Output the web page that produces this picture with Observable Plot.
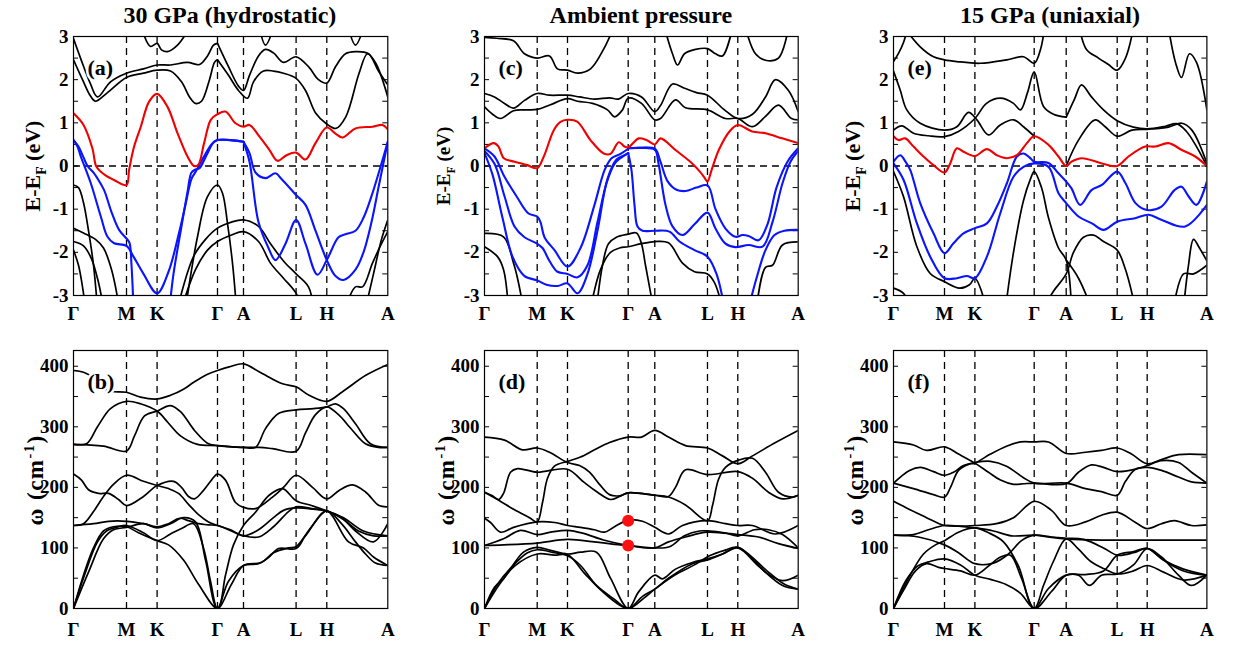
<!DOCTYPE html>
<html><head><meta charset="utf-8">
<script src="https://cdn.jsdelivr.net/npm/d3@7"></script>
<script src="https://cdn.jsdelivr.net/npm/@observablehq/plot@0.6"></script>
<style>
body{margin:0;background:#fff;}
#wrap{position:relative;width:1235px;height:647px;overflow:hidden;background:#fff;font-family:"Liberation Serif","Times New Roman",serif;color:#000;}
.title{position:absolute;font-weight:bold;font-size:24px;transform:translate(-50%,-50%);white-space:nowrap;}
.ylab{position:absolute;font-weight:bold;font-size:22px;transform:translate(-50%,-50%) rotate(-90deg);white-space:nowrap;}
.ylab sub,.ylab sup{font-size:0.62em;}
.wlab{font-size:23px;letter-spacing:1.5px;}
</style></head><body><div id="wrap"></div>
<script>
// ---------- tick labels / paths ----------
const kLabels = ["Γ","M","K","Γ","A","L","H","A"];
const kPathAB = [0, 53, 83.6, 144, 170, 222.6, 253.3, 314.3];
const kPathCD = [0, 52.7, 83, 143.7, 170.3, 223, 253.3, 313.7];
const kPathEF = [0, 51, 81.4, 140.7, 172.7, 223.7, 253.7, 313.4];
const eTicks = [-3, -2, -1, 0, 1, 2, 3];
const eMinor = [-2.5, -2, -1.5, -1, -0.5, 0, 0.5, 1, 1.5, 2, 2.5];
const wTicks = [0, 100, 200, 300, 400];
const wMinor = [50, 100, 150, 200, 250, 300, 350, 400];
const titles = ["30 GPa (hydrostatic)", "Ambient pressure", "15 GPa (uniaxial)"];
const panelLabels = ["(a)", "(b)", "(c)", "(d)", "(e)", "(f)"];

// ---------- (a) 30 GPa bands ----------
const a_red = [
 [[0,1.22],[10,0.95],[19,0.4],[23,-0.02],[31,-0.2],[41,-0.33],[53,-0.44],[55.6,-0.09],[60.6,0.45],[67.3,0.91],[75.6,1.49],[83.6,1.67],[94,1.37],[104,0.76],[114,0.22],[120.6,0.0],[124.6,0.02],[130.6,0.53],[137.3,1.07],[144,1.2],[152,1.26],[162,0.99],[170,0.91],[176,0.95],[186,0.68],[196,0.37],[204,0.12],[213,0.25],[222.6,0.31],[232,0.15],[242,0.53],[253.3,0.89],[262,0.75],[269,0.66],[282,0.87],[299,0.91],[309,0.95],[314.3,0.85]]
];
const a_blue = [
 [[0,0.6],[5,0.45],[10,0.2],[14,0.0],[20.6,-0.17],[24,-0.29],[30.6,-0.56],[37.3,-1.02],[45.6,-1.48],[53,-1.68],[56,-1.78],[58,-2.3],[60,-3.3]],
 [[96,-3.3],[100,-2.5],[108,-1.4],[114,-0.6],[118,-0.15],[122,-0.08],[126,-0.05],[133,0.25],[140,0.55],[144,0.6],[157,0.6],[170,0.56]],
 [[0,0.6],[4,0.45],[7.3,0.22],[17.3,-0.4],[27.3,-1.17],[34,-1.64],[40.6,-1.79],[53,-1.85],[60,-2.1],[70,-2.5],[83.6,-2.95],[95,-2.45],[105,-1.6],[112,-0.9],[118,-0.3],[123,-0.1],[130,0.2],[138,0.5],[144,0.6],[157,0.6],[170,0.56]],
 [[170,0.56],[176,0.3],[182,-0.15],[192,-0.28],[202,-0.17],[208,-0.3],[222.6,-0.67],[232,-0.9],[242,-1.5],[253.3,-2.18],[262,-2.55],[270,-2.64],[282,-2.4],[290,-2.0],[298,-1.3],[305,-0.5],[314.3,0.56]],
 [[170,0.56],[176,0.1],[185,-1.3],[195,-1.9],[202,-2.18],[212,-1.8],[222.6,-1.25],[232,-1.8],[244,-2.52],[253.3,-2.18],[265,-1.65],[272,-1.58],[282,-1.5],[290,-1.2],[298,-0.7],[306,-0.1],[314.3,0.56]]
];
const a_black = [
 [[0,-0.44],[5,-0.5],[10,-0.85],[15,-1.5],[20,-2.3],[24,-3.3]],
 [[0,-1.44],[10,-1.55],[22,-1.7],[30,-1.9],[38,-2.4],[46,-3.3]],
 [[0,-1.75],[10,-1.85],[18,-2.15],[25,-2.7],[30,-3.3]],
 [[0,-1.95],[5,-2.3],[9,-2.8],[12,-3.3]],
 [[112,-3.3],[124,-1.64],[134,-0.71],[144,-0.44],[149,-0.63],[154,-1.33],[159,-2.25],[163,-3.3]],
 [[104,-3.3],[120,-2.1],[132,-1.7],[144,-1.44],[158,-1.3],[170,-1.25],[185,-1.4],[197,-1.8],[210,-2.2],[222.6,-2.5],[235,-2.8],[240,-3.3]],
 [[108,-3.3],[122,-2.4],[134,-1.95],[144,-1.75],[158,-1.6],[170,-1.52],[185,-1.75],[197,-2.25],[210,-2.6],[222.6,-2.95],[228,-3.3]],
 [[272,-3.3],[282,-2.8],[289,-2.8],[299,-2.25],[308,-1.8],[314.3,-1.52]],
 [[292,-3.3],[300,-2.5],[308,-1.7],[314.3,-1.25]],
 [[0,2.95],[7,2.5],[17,1.9],[24,1.6],[37,1.95],[53,2.15],[70,2.25],[83.6,2.34],[97,2.34],[114,2.4],[126,2.35],[134,2.55],[140,2.8],[144,2.84]],
 [[0,2.46],[9,2.0],[17,1.62],[22,1.5],[34,1.7],[53,2.05],[70,2.15],[83.6,2.22],[97,2.2],[108,1.95],[116,1.6],[122,1.45],[128,1.5],[136,2.0],[141,2.4],[144,2.46]],
 [[68,3.2],[77,2.77],[83.6,2.84],[88,2.69],[94,2.65],[104,2.8],[116,3.2]],
 [[144,2.84],[155,2.3],[165,1.85],[170,1.75],[176,2.1],[185,2.55],[192,2.7],[200,2.62],[210,2.4],[222.6,2.53],[235,2.3],[245,2.0],[253.3,1.92],[262,2.3],[272,2.6],[282,2.65],[295,2.6],[305,2.2],[314.3,1.88]],
 [[144,2.46],[155,2.1],[165,1.75],[174,1.57],[180,1.95],[190,2.2],[200,2.2],[210,2.15],[222.6,2.03],[232,1.75],[242.3,1.22],[252.3,0.99],[262.3,0.87],[272.3,1.14],[285.6,2.15],[294,2.6],[302.3,2.38],[314.3,1.6]],
 [[186,3.2],[192,2.8],[200,3.2]],
 [[275,3.2],[282,2.8],[290,3.2]]
];

// ---------- (c) ambient bands ----------
const c_red = [
 [[0,0.41],[9.3,0.53],[14,0.45],[19.3,0.18],[30,0.1],[42.7,0.02],[52.7,-0.05],[59.3,0.22],[69.3,0.83],[76,1.02],[83,1.07],[92.7,1.03],[106,0.6],[119.3,0.29],[126,0.28],[134.3,0.55],[140,0.45],[143.7,0.43],[154.3,0.64],[162,0.6],[170.3,0.5],[176,0.64],[191,0.37],[207.7,0.06],[215,-0.12],[220,-0.27],[223,-0.36],[227,-0.1],[234.3,0.37],[245,0.8],[253.3,0.95],[267.7,0.8],[281,0.76],[297.7,0.64],[313.7,0.53]]
];
const c_blue = [
 [[0,0.41],[10,0.22],[20,-0.25],[32,-0.7],[44,-1.1],[52.7,-1.17],[56,-1.3],[60,-1.65],[70,-1.95],[83,-2.33],[96,-1.9],[110,-0.9],[120,-0.1],[127,0.18],[136,0.28],[143.7,0.4]],
 [[0,0.35],[10,0.05],[20,-0.7],[30,-1.4],[40,-1.65],[52.7,-1.8],[58,-1.9],[65,-2.2],[73,-2.45],[83,-2.5],[93,-2.58],[103,-2.3],[113,-1.3],[122,-0.4],[130,0.05],[137,0.2],[143.7,0.3]],
 [[0,0.3],[8,-0.2],[18,-1.2],[28,-2.1],[40,-2.55],[52.7,-2.65],[62,-2.75],[73,-2.78],[83,-2.72],[93,-2.95],[103,-2.5],[113,-1.5],[123,-0.3],[132,0.15],[140,0.25],[143.7,0.3]],
 [[143.7,0.41],[156,0.42],[170.3,0.4],[176,0.1],[183,-0.35],[192,-0.55],[201,-0.58],[212,-0.5],[223,-0.45],[231,-1.0],[241,-1.45],[251,-1.64],[258,-1.6],[264,-1.62],[274,-1.72],[283,-1.35],[292,-0.5],[303,0.1],[313.7,0.41]],
 [[143.7,0.41],[156,0.42],[170.3,0.38],[174,0.06],[181,-0.9],[188,-1.4],[198,-1.6],[210,-1.35],[223,-1.08],[231,-1.45],[241,-1.8],[251,-1.88],[264,-1.83],[278,-1.87],[288,-1.3],[298,-0.4],[306,0.1],[313.7,0.35]],
 [[143.7,0.3],[147,-0.1],[150,-0.9],[153,-1.4],[158,-1.5],[170.3,-1.5],[185,-1.52],[195,-1.75],[210,-1.95],[223,-2.1],[232,-2.5],[240,-3.3]],
 [[264,-3.3],[272,-2.6],[281,-1.95],[290,-1.6],[300,-1.5],[313.7,-1.48]]
];
const c_black = [
 [[0,-1.56],[19,-1.64],[29,-2.25],[33,-2.6],[39,-3.3]],
 [[0,-1.87],[13,-2.1],[19,-2.4],[24,-3.3]],
 [[112,-3.3],[118,-2.3],[124,-1.8],[132,-1.65],[143.7,-1.58],[152,-1.55],[157,-1.8],[161,-2.3],[165,-2.8],[169,-3.3]],
 [[106,-3.3],[116,-2.4],[126,-2.0],[135,-1.9],[143.7,-1.87],[157,-1.8],[170.3,-1.75],[184,-1.78],[198,-2.25],[210,-2.45],[223,-2.5],[230,-2.7],[238,-3.3]],
 [[272,-3.3],[281,-2.35],[288,-2.3],[298,-1.83],[313.7,-1.76]],
 [[0,1.68],[10,1.6],[20,1.45],[29,1.34],[40,1.52],[52.7,1.68],[65,1.64],[83,1.64],[95,1.6],[110,1.55],[125,1.58],[134,1.55],[143.7,1.68],[157,1.6],[170.3,1.26],[176,1.4],[188,1.9],[200,1.8],[212,1.7],[223,1.64],[240,1.3],[253.3,1.1],[268,1.2],[281,1.6],[291,2.0],[304,1.75],[313.7,1.26]],
 [[0,1.37],[8,1.2],[16,1.1],[29,1.28],[40,1.3],[52.7,1.31],[66,1.42],[83,1.56],[93,1.5],[108,1.45],[123,1.3],[130,1.14],[138,1.3],[143.7,1.57],[157,1.45],[170.3,1.07],[176,1.1],[191,1.53],[201,1.35],[223,1.3],[241,1.1],[253.3,1.1],[268,0.91],[281,1.15],[294,1.41],[307,1.1],[313.7,1.07]],
 [[0,2.98],[12,2.96],[29,2.9],[40,2.6],[52.7,2.5],[65,2.55],[73,2.25],[83,2.22],[93,2.15],[106,2.25],[119,2.7],[129,3.2]],
 [[180,3.2],[188,2.6],[193,2.34],[200,2.6],[211,2.7],[223,2.72],[231,2.6],[238,2.55],[248,3.2]],
 [[261,3.2],[271,2.6],[281,2.45],[294,2.5],[304,3.2]]
];

// ---------- (e) 15 GPa uniaxial bands ----------
const e_red = [
 [[0,0.69],[5,0.6],[11.7,0.64],[20,0.45],[30,0.22],[40,0.02],[51,-0.15],[56.7,0.06],[63.3,0.41],[70,0.33],[81.4,0.23],[93.4,0.39],[103.4,0.25],[113.4,0.18],[123.4,0.25],[133.4,0.53],[140.7,0.69],[155,0.49],[165,0.22],[172.7,0.0],[178,0.1],[188.4,0.18],[208.4,0.06],[223.7,0.0],[235,0.22],[251.7,0.45],[261.7,0.45],[275,0.53],[288.4,0.37],[301.7,0.22],[313.4,0.0]]
];
const e_blue = [
 [[0,0.1],[6.7,0.25],[12,0.1],[16.7,-0.09],[26.7,-0.86],[40,-1.56],[51,-2.02],[60,-1.79],[70,-1.56],[81.4,-1.44],[93.4,-1.33],[103.4,-0.94],[113.4,-0.4],[123.4,0.22],[130,0.29],[136,0.2],[140.7,0.1],[155,0.07],[165,-0.17],[172.7,-0.36],[178,-0.52],[186.7,-0.9],[198,-0.56],[208.4,-0.44],[223.7,-0.13],[232,-0.4],[242,-0.86],[253.7,-1.02],[268,-0.94],[281,-0.56],[288,-0.48],[295,-0.7],[303,-0.9],[313.4,-0.36]],
 [[0,0.06],[10,-0.32],[23.4,-1.33],[36.7,-2.1],[51,-2.6],[63.4,-2.6],[73.4,-2.55],[81.4,-2.6],[93.4,-2.1],[106.7,-1.1],[120,-0.25],[130,-0.02],[140.7,0.06],[155,-0.02],[165,-0.63],[172.7,-0.86],[185,-1.17],[198.4,-1.33],[210,-1.48],[223.7,-1.29],[241.7,-1.21],[255,-1.13],[268.4,-1.25],[291.7,-1.4],[313.4,-0.9]]
];
const e_black = [
 [[0,-0.13],[10,-0.71],[23.4,-1.87],[36.7,-2.49],[51,-2.68],[66,-2.83],[76,-2.75],[81.4,-2.6],[88,-2.9],[92,-3.3]],
 [[0,-2.83],[10,-2.95],[17,-3.3]],
 [[112,-3.3],[120,-2.0],[130,-0.8],[137,-0.3],[140.7,-0.13],[148,-0.5],[155,-1.2],[165,-1.9],[172.7,-2.18],[178,-3.3]],
 [[150,-3.3],[160,-2.9],[172.7,-2.5],[180,-2.0],[190,-1.65],[200,-1.6],[210,-1.75],[223.7,-1.95],[232,-2.4],[242,-3.3]],
 [[172.7,-2.18],[185,-2.6],[198,-3.3]],
 [[280,-3.3],[290,-2.5],[300,-2.5],[313.4,-2.3]],
 [[290,-3.3],[295,-2.3],[300,-1.7],[306,-1.9],[313.4,-2.2]],
 [[0,2.42],[5,2.61],[10,2.86],[14,3.2]],
 [[0,2.2],[6.7,1.76],[13.3,1.3],[26.7,0.99],[51,0.83],[63.4,0.91],[75,1.24],[83.4,1.07],[95,0.72],[106.7,0.95],[120,1.07],[130,0.91],[140.7,0.69]],
 [[0,0.83],[8.4,0.93],[20,0.76],[35,0.7],[51,0.68],[65,0.8],[81.4,1.1],[93,1.45],[107,1.57],[120,1.45],[127,1.3],[134,1.7],[140.7,2.18],[150,1.38],[160,1.2],[172.7,1.13]],
 [[11,3.2],[26.7,2.76],[40,2.53],[51,2.46],[63.4,2.42],[86.7,2.38],[113.4,2.46],[130,2.53],[140.7,2.38],[147,2.7],[151,3.2]],
 [[172.7,1.13],[181,1.55],[188,1.88],[198,1.6],[210,1.3],[223.7,1.05],[240,0.9],[253.7,0.86],[272,0.92],[283,0.98],[293,0.8],[303,0.45],[313.4,0.0]],
 [[172.7,0.0],[185,0.6],[201.7,1.07],[211.7,0.91],[223.7,0.69],[238.4,0.83],[253.7,0.85],[275,0.9],[288.4,0.99],[298.4,0.83],[313.4,0.06]],
 [[186,3.2],[193,2.7],[205,2.5],[215,2.35],[223.7,2.22],[232,2.5],[240,3.2]],
 [[275,3.2],[282,2.4],[288,2.05],[296,2.6],[303,2.4],[313.4,1.3]]
];

// ---------- (b) 30 GPa phonons ----------
const b_black = [
 [[0,393],[10,390],[20,381],[34,360],[53,357],[67,349],[83.6,346],[97,352],[110,362],[120.6,374],[133,386],[144,393],[155.6,399],[170,404],[185.6,391],[209,371],[222.6,366],[235.6,352],[253.3,342],[269,358],[292.3,385],[314.3,403]],
 [[0,271],[13,272],[24,300],[37,330],[53,342],[67,338],[83.6,326],[94,308],[107,285],[124,271],[144,269],[170,266],[182,266],[192,297],[205,322],[222.6,328],[240,330],[253.3,333],[262,338],[270,330],[282,305],[297,272],[314.3,266]],
 [[0,271],[30,268],[53,260],[61,285],[71,318],[83.6,326],[97,335],[107,325],[121,294],[134,273],[144,269],[170,266],[186,266],[199,264],[222.6,259.5],[232,290],[242,320],[253.3,333],[265,320],[278,296],[292,272],[305,266],[314.3,266]],
 [[0,222],[8,212],[15,196],[25,190],[35,190],[45,180],[53,170],[70,185],[83.6,203],[100,210],[108,200],[115,185],[121,181],[130,195],[138,212],[144,222],[152,212],[162,175],[170,167],[182,165],[199,184],[210,200],[222.6,220],[239,200],[253.3,181],[265.6,195],[279,204],[292.3,192],[305.6,170],[314.3,168]],
 [[0,137],[10,140],[20,160],[30,185],[40,205],[53,220],[70,210],[83.6,203],[95,198],[105,190],[115,172],[125,155],[135,143],[144,137],[157,130],[170,120],[185,130],[200,150],[210,162],[222.6,166],[240,164],[253.3,161],[270,147],[285,128],[300,120],[314.3,120]],
 [[0,137],[20,140],[35,144],[53,144],[70,140],[83.6,135],[95,140],[106,149],[115,145],[125,140],[135,138],[144,137],[170,120],[185,118],[200,135],[215,160],[222.6,168],[238,165],[253.3,161],[270,150],[290,128],[314.3,120]],
 [[0,0],[10,55],[20,100],[30,128],[40,135],[53,135],[65,125],[83.6,112],[95,105],[110,80],[125,40],[144,0],[152,55],[160,105],[170,137],[182,159],[195.6,187],[209,198],[222.6,178],[238,170],[253.3,161],[268,150],[282,128],[300,110],[314.3,140]],
 [[0,0],[12,60],[24,110],[33,128],[45,135],[53,137],[70,125],[83.6,112],[97,123],[108,132],[120,140],[130,100],[137,45],[144,0],[155,45],[170,71],[185,74],[195,84],[205,99],[222.6,99],[232,120],[253.3,161],[268,140],[282,110],[292,90],[302,75],[314.3,71]],
 [[0,0],[15,60],[30,115],[40,130],[53,134],[70,140],[83.6,133],[97,140],[110,150],[122,143],[132,80],[144,0],[158,40],[170,71],[188,76],[200,92],[215,100],[222.6,102],[238,135],[253.3,161],[275,110],[290,100],[300,85],[314.3,71]]
];

// ---------- (d) ambient phonons ----------
const d_black = [
 [[0,283],[20,278],[38,262],[52.7,265],[65,258],[83,241],[95,236],[105,225],[115,205],[125,188],[135,186],[143.7,191],[170.3,187],[184,185],[191,200],[201,229],[223,221],[253.3,226],[268,215],[284,192],[298,181],[313.7,187]],
 [[0,192],[8,186],[14,180],[19,190],[26,225],[33,231],[52.7,225],[83,230],[99,209],[113,192],[126,180],[135,185],[143.7,191],[170.3,187],[184,184],[201,171],[223,145],[228,170],[234,213],[241,233],[254,245],[268,248],[281,225],[294,192],[308,184],[313.7,187]],
 [[0,192],[15,178],[30,163],[45,150],[52.7,143],[58,175],[63,215],[70,235],[83,243],[96,250],[110,262],[125,274],[143.7,283],[157,283],[170.3,294],[184,283],[201,269],[223,265],[238,252],[253.3,239],[268,252],[291,274],[313.7,294]],
 [[0,149],[6,142],[16,126],[29,134],[52.7,143],[70,142],[83,137],[96,134],[110,130],[120,126],[130,135],[143.7,146],[158,144],[170.3,134],[184,123],[198,137],[223,145],[241,140],[253.3,137],[268,137],[291,123],[313.7,137]],
 [[0,104],[19,115],[36,129],[52.7,122],[66,126],[83,129],[99,124],[119,113],[143.7,104],[170.3,100],[184,110],[201,118],[223,126],[253.3,122],[274,118],[294,107],[313.7,99]],
 [[0,104],[19,105],[52.7,108],[83,114],[110,110],[130,106],[143.7,104],[170.3,100],[185,102],[200,120],[215,128],[223,128],[240,125],[253.3,120],[270,130],[284,130],[298,122],[313.7,100]],
 [[0,0],[10,35],[19,49],[39,93],[52.7,101],[66,96],[83,90],[96,93],[112,93],[126,50],[143.7,0],[154,27],[170.3,55],[178,49],[191,65],[208,76],[223,82],[238,90],[253.3,101],[268,82],[281,60],[298,46],[313.7,55]],
 [[0,0],[13,40],[28,70],[43,92],[52.7,97],[70,92],[83,87],[96,71],[112,38],[130,15],[143.7,0],[158,20],[170.3,32],[184,50],[208,74],[223,80],[238,90],[253.3,100],[274,70],[298,38],[313.7,32]],
 [[0,0],[15,40],[30,70],[52.7,90],[70,88],[83,89],[100,58],[120,25],[143.7,0],[160,18],[170.3,32],[190,55],[210,72],[225,87],[240,96],[253.3,101],[284,60],[300,40],[313.7,32]]
];
const d_dots = [[143.7,145],[143.7,104]];

// ---------- (f) 15 GPa uniaxial phonons ----------
const f_black = [
 [[0,275],[20,270],[33,261],[51,267],[65,255],[81.4,240],[95,225],[107,212],[120,205],[130,206],[140.7,207],[172.7,206],[185,225],[198,237],[210,233],[223.7,226],[242,230],[253.7,236],[268,244],[285,241],[298,225],[313.4,207]],
 [[0,207],[16,228],[27,233],[40,226],[51,220],[60,225],[70,236],[81.4,241],[97,243],[113,235],[130,216],[140.7,207],[172.7,207],[192,198],[208,193],[223.7,187],[232,210],[242,230],[253.7,233],[268,228],[285,217],[298,209],[313.4,207]],
 [[0,207],[20,198],[40,188],[51,184],[57,200],[65,228],[75,238],[81.4,240],[97,255],[113,268],[127,275],[140.7,275],[155,275],[172.7,256],[192,258],[208,261],[223.7,265],[238,255],[253.7,239],[268,246],[285,254],[313.4,254]],
 [[0,177],[13,166],[33,150],[47,139],[51,137],[65,136],[81.4,137],[103,140],[120,150],[140.7,177],[158,162],[172.7,137],[192,143],[208,154],[223.7,159],[242,142],[253.7,132],[268,140],[281,145],[298,137],[313.4,138]],
 [[0,121],[20,122],[35,130],[51,137],[65,136],[81.4,133],[100,128],[118,120],[140.7,121],[155,118],[172.7,115],[208,113],[253.7,113],[313.4,113]],
 [[0,121],[25,118],[51,105],[65,92],[81.4,74],[100,75],[115,90],[128,112],[140.7,121],[158,118],[172.7,116],[190,114],[210,100],[223.7,88],[240,92],[253.7,99],[270,80],[290,62],[313.4,55]],
 [[0,0],[12,45],[24,70],[35,77],[51,82],[67,72],[81.4,55],[97,48],[112,40],[127,25],[140.7,0],[150,38],[160,78],[172.7,115],[185,98],[197,78],[210,66],[223.7,57],[240,62],[253.7,71],[270,60],[290,47],[313.4,55]],
 [[0,0],[10,30],[22,62],[33,74],[45,68],[51,66],[67,62],[81.4,55],[95,70],[107,85],[117,88],[128,50],[140.7,0],[155,33],[172.7,55],[185,55],[196,38],[208,55],[223.7,57],[240,72],[253.7,99],[268,85],[285,55],[298,38],[313.4,55]],
 [[0,0],[15,50],[30,90],[42,105],[51,112],[65,126],[81.4,133],[95,125],[110,110],[125,70],[140.7,0],[158,28],[172.7,55],[192,56],[210,62],[223.7,88],[240,94],[253.7,99],[270,80],[290,65],[313.4,55]]
];

// ---------- drawing ----------
const wrap = document.getElementById("wrap");
const FONT = '"Liberation Serif", "Times New Roman", serif';
const flat = (lines) => lines.flatMap((pts, i) => pts.map(([k, v]) => ({line: i, k, v})));

function drawPanel(o) {
  const ML = 70, MR = 10, MT = 10, MB = o.mb;
  const kEnd = o.kTicks[o.kTicks.length - 1];
  const tickLen = kEnd * 0.016;
  const marks = [
    Plot.ruleX(o.kTicks.slice(1, -1), {stroke: "#000", strokeWidth: 1.3, strokeDasharray: "7,5"})
  ];
  if (o.zero) marks.push(Plot.ruleY([0], {stroke: "#000", strokeWidth: 1.3, strokeDasharray: "7,5"}));
  marks.push(Plot.ruleY(o.yMinor, {x1: 0, x2: tickLen, stroke: "#000", strokeWidth: 1}));
  marks.push(Plot.ruleY(o.yMinor, {x1: kEnd - tickLen, x2: kEnd, stroke: "#000", strokeWidth: 1}));
  const addLines = (lines, color, w) => {
    if (lines && lines.length) marks.push(Plot.line(flat(lines), {x: "k", y: "v", z: "line", stroke: color, strokeWidth: w, curve: "catmull-rom", clip: true}));
  };
  addLines(o.black, "#000", 1.7);
  addLines(o.blue, "#0a14ff", 2.1);
  addLines(o.red, "#f00000", 2.1);
  if (o.dots) marks.push(Plot.dot(o.dots, {x: d => d[0], y: d => d[1], r: 6, fill: "#ff1010", stroke: "none"}));
  marks.push(Plot.text([o.label], {frameAnchor: "top-left", dx: 14, dy: 23, textAnchor: "start", fontSize: 22, fontWeight: "bold", fill: "#000", stroke: "#fff", strokeWidth: 5, paintOrder: "stroke"}));
  marks.push(Plot.frame({stroke: "#000", strokeWidth: 1.2}));
  marks.push(Plot.axisX(o.kTicks, {tickFormat: d => kLabels[o.kTicks.indexOf(d)], tickSize: 0, tickPadding: o.xpad, fontSize: 19, fontWeight: "bold", label: null}));
  marks.push(Plot.axisY(o.yTicks, {tickFormat: d => String(d), tickSize: 0, tickPadding: 5, fontSize: 19, fontWeight: "bold", label: null}));
  const chart = Plot.plot({
    width: ML + o.fw + MR, height: MT + o.fh + MB,
    marginLeft: ML, marginRight: MR, marginTop: MT, marginBottom: MB,
    x: {domain: [0, kEnd]}, y: {domain: o.yDomain},
    style: {fontFamily: FONT, color: "#000", background: "transparent", overflow: "visible"},
    marks
  });
  chart.style.position = "absolute";
  chart.style.left = (o.left - ML) + "px";
  chart.style.top = (o.top - MT) + "px";
  wrap.appendChild(chart);
}

const colLeft = [72.7, 484, 893.3];
const colWidth = [314.3, 313.7, 313.4];
const paths = [kPathAB, kPathCD, kPathEF];
const bands = [[a_black, a_blue, a_red], [c_black, c_blue, c_red], [e_black, e_blue, e_red]];
const phonons = [b_black, d_black, f_black];
const eLabSize = [22, 19, 22];

for (let c = 0; c < 3; c++) {
  drawPanel({left: colLeft[c], top: 36, fw: colWidth[c], fh: 259, mb: 34, xpad: 11,
    kTicks: paths[c], yDomain: [-3, 3], yTicks: eTicks, yMinor: eMinor, zero: true,
    black: bands[c][0], blue: bands[c][1], red: bands[c][2], label: panelLabels[2 * c]});
  drawPanel({left: colLeft[c], top: 350, fw: colWidth[c], fh: 258, mb: 38, xpad: 14,
    kTicks: paths[c], yDomain: [0, 426], yTicks: wTicks, yMinor: wMinor, zero: false,
    black: phonons[c], dots: c === 1 ? d_dots : null, label: panelLabels[2 * c + 1]});
  const t = document.createElement("div");
  t.className = "title"; t.textContent = titles[c];
  t.style.left = (colLeft[c] + colWidth[c] / 2) + "px"; t.style.top = "15px";
  wrap.appendChild(t);
  const y1 = document.createElement("div");
  y1.className = "ylab"; y1.innerHTML = "E-E<sub>F</sub> (eV)";
  y1.style.fontSize = eLabSize[c] + "px";
  y1.style.left = (colLeft[c] - 38) + "px"; y1.style.top = "166px";
  wrap.appendChild(y1);
  const y2 = document.createElement("div");
  y2.className = "ylab wlab"; y2.innerHTML = "ω (cm<sup>-1</sup>)";
  y2.style.left = (colLeft[c] - 38) + "px"; y2.style.top = "480px";
  wrap.appendChild(y2);
}
</script></body></html>
